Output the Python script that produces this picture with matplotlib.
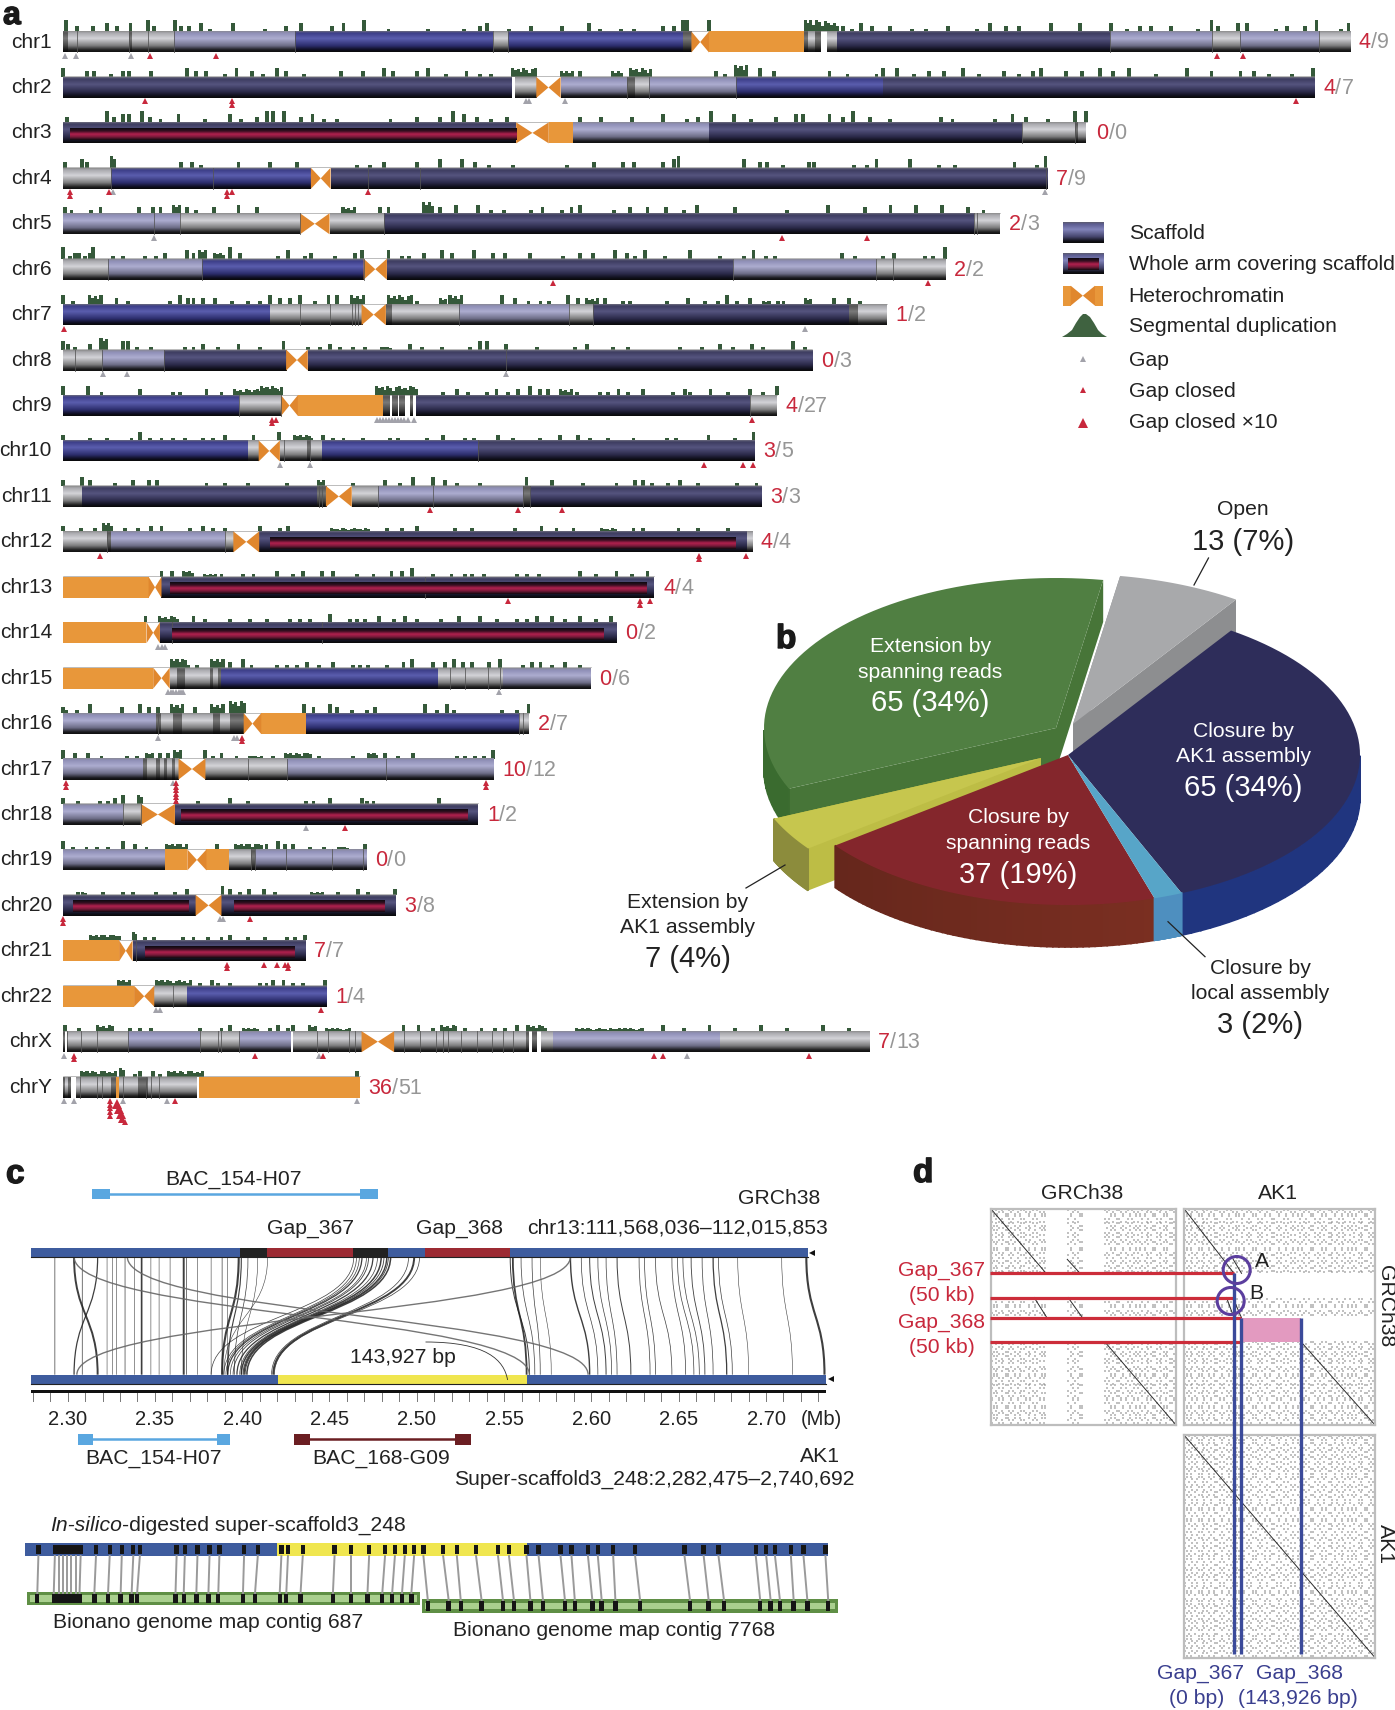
import numpy as np
import matplotlib
matplotlib.use('Agg')
import matplotlib.pyplot as plt
import matplotlib.patheffects as pe
from matplotlib.colors import LinearSegmentedColormap
from matplotlib.patches import Polygon, Rectangle, Circle, PathPatch
from matplotlib.path import Path

plt.rcParams['font.family'] = ['Liberation Sans', 'DejaVu Sans']

# ---------- panel a data, positions in Mb ----------
chrom_names = ['chr1','chr2','chr3','chr4','chr5','chr6','chr7','chr8','chr9','chr10','chr11','chr12',
               'chr13','chr14','chr15','chr16','chr17','chr18','chr19','chr20','chr21','chr22','chrX','chrY']
gaps_closed = [4,4,0,7,2,2,1,0,4,3,3,4,4,0,0,2,10,1,0,3,7,1,7,36]
gaps_total = [9,7,0,9,3,2,2,3,27,5,3,4,4,2,6,7,12,2,0,8,7,4,13,51]

# (segment end, kind): D dark, B blue, L light, G grey, K dark grey, W white, H het, C centromere, A whole arm
segments = [
 [(0.9,'K'),(2.6,'G'),(12.8,'G'),(13.3,'K'),(16.4,'G'),(21.4,'G'),(44.8,'L'),(83.2,'B'),(86,'G'),(119.9,'B'),(121.5,'K'),(124.9,'C'),(143.2,'H'),(144,'K'),(145.5,'G'),(146.5,'K'),(147.8,'W'),(149.7,'G'),(202.4,'D'),(222.2,'L'),(227.7,'G'),(242.8,'L'),(248.8,'G')],
 [(86.8,'D'),(87.4,'W'),(91.5,'G'),(96.2,'C'),(109.1,'L'),(110.5,'K'),(111.5,'G'),(113.3,'G'),(130.2,'L'),(158.6,'B'),(242,'D')],
 [(87.6,'A'),(93.9,'C'),(98.5,'H'),(124.9,'L'),(185.4,'D'),(195.6,'G'),(196.2,'K'),(197.6,'G'),(198.1,'W')],
 [(9.3,'G'),(47.9,'B'),(51.7,'C'),(190.3,'D')],
 [(22.6,'L'),(45.8,'G'),(51.5,'C'),(62,'G'),(176.2,'D'),(181.2,'G')],
 [(8.7,'G'),(26.8,'L'),(58.1,'B'),(62.6,'C'),(129.6,'D'),(157.2,'L'),(160.4,'G'),(170.6,'G')],
 [(39.9,'B'),(57.7,'G'),(62.4,'C'),(63.5,'K'),(64.8,'G'),(76.6,'G'),(97.9,'L'),(102.5,'G'),(151.9,'D'),(153.8,'K'),(159.3,'G')],
 [(2.3,'G'),(7.4,'G'),(19.4,'L'),(43.1,'D'),(47.3,'C'),(144.9,'D')],
 [(33.9,'B'),(42.1,'G'),(45.4,'C'),(61.8,'H'),(63,'K'),(63.5,'W'),(64.5,'K'),(65,'W'),(66,'K'),(67,'W'),(67.5,'K'),(68.2,'W'),(132.8,'D'),(138,'G')],
 [(35.8,'B'),(37.8,'G'),(41.9,'C'),(47.1,'G'),(47.7,'K'),(50,'G'),(80.3,'B'),(133.7,'D')],
 [(3.6,'G'),(49,'D'),(50.8,'K'),(55.8,'C'),(60.9,'G'),(89,'L'),(90.3,'K'),(135,'D')],
 [(8.4,'G'),(9.3,'K'),(31.3,'L'),(32.9,'G'),(37.9,'C'),(132.2,'A'),(133.2,'G')],
 [(16.5,'H'),(19,'C'),(114.3,'A')],
 [(16.1,'H'),(18.7,'C'),(107,'A')],
 [(17.4,'H'),(20.6,'C'),(22,'G'),(23.5,'K'),(28.4,'G'),(29,'K'),(30,'G'),(30.5,'K'),(72.5,'B'),(85.1,'G'),(102,'L')],
 [(18,'L'),(19,'K'),(21.3,'G'),(23,'K'),(29,'G'),(30.3,'K'),(32.2,'G'),(34.9,'K'),(38.3,'C'),(47,'H'),(88.2,'B'),(90.1,'G')],
 [(15.5,'L'),(16.2,'K'),(18,'G'),(18.7,'K'),(19.5,'G'),(20,'K'),(21,'G'),(21.6,'K'),(22.3,'G'),(27.5,'C'),(43.2,'G'),(83.2,'L')],
 [(11.6,'L'),(15,'G'),(21.6,'C'),(80.2,'A')],
 [(19.7,'L'),(24,'H'),(27.7,'C'),(32.1,'H'),(36.3,'G'),(37.1,'K'),(58.6,'L')],
 [(25.6,'A'),(30.6,'C'),(64.3,'A')],
 [(10.8,'H'),(13.4,'C'),(46.7,'A')],
 [(13.7,'H'),(17.6,'C'),(23.9,'G'),(50.8,'B')],
 [(0.2,'K'),(0.7,'W'),(1,'K'),(12.6,'G'),(26.5,'L'),(33.9,'G'),(43.9,'L'),(44.4,'W'),(57.7,'G'),(64,'C'),(89.6,'G'),(90.1,'K'),(90.7,'W'),(91.5,'K'),(92.5,'W'),(94.8,'G'),(127,'L'),(155.9,'G')],
 [(0.3,'K'),(1,'G'),(1.4,'K'),(2.5,'W'),(5.9,'G'),(6.9,'G'),(9.2,'G'),(10.2,'K'),(10.7,'H'),(14.5,'G'),(16.4,'K'),(17.5,'G'),(25.8,'G'),(26.3,'W'),(57.3,'H')],
]

# inner crimson stripes of the whole-arm scaffolds, (chromosome index, start, end)
arm_inner = [(2,1.3,87.6),(11,39.9,130),(12,20.6,112.8),(13,21,104.4),(17,22.8,78.3),(19,1.9,24.3),(19,33.1,62.2),(20,15.8,44.8)]

# thin separators inside the scaffolds
separators = [
 [2.6,12.8,16.4,21.4,44.8,83.2,86,202.4,222.2,227.7,242.8],[109.1,113.3,130.2],[185.4,195.6],[9.3,29,59,69,190],
 [17.5,22.6,45.8,62,176.2,176.8],[8.7,26.8,58.1,129.6,157.2,160.4],[45.8,51.5,55.8,56.4,57.1,76.6,97.9,102.5],
 [2.3,7.4,19.4,85.6],[33.9,42.1,132.8],[42.6,47.7,80.3],[49.5,50,60.9,71.6,89,90.3],[8.4,31.3],
 [70],[21,50],[74.8,77.7,82.2,84.5],[18.4,88.2,89],[35.8,43.2,62.4],[11.6,15],[36.3,37.1,43,52,58],[],[14],[21.3],
 [3.5,6.6,12.6,26.4,30,30.6,34,49,51.3,55.3,56.5,66,69,72,73.5,74.5,77,80,83,85,87],[3.2,6.5,7.5,11.6,16,17,18.5],
]

gap_open = [
 [0.4,2.5,13.1],[89.5,90.1,97],[],[9.7,189.9],[17.5],[],[143.5],[7.6,12.3,85.6],
 [60.6,61.2,61.8,62.4,63,63.6,64.2,64.8,65.4,66,66.6,67.8],[41.9,47.7],[],[],[],[18.3,19.1,19.7],
 [20.3,20.8,21.3,21.8,22.3,22.8,23.2,84.2],[18.4,33,33.6],[21.3],[46.9],[],[30.3,30.9],[],[18,18.8],[0.1,49.4,120.7],[0.1,2,11.6,20.1,56.8],
]
# (position, stacked count)
gap_done = [
 [(16.7,1),(29.5,1),(223.2,1),(228.1,1)],[(15.8,1),(32.7,2),(238.4,1)],[],[(1.3,2),(8.9,1),(31.6,2),(32.7,1),(58.9,1)],
 [(139,1),(155.5,1)],[(94.8,1),(167.3,1)],[(0.2,1)],[],[(40.4,2),(41.2,1),(133.2,1)],[(123.9,1),(131.4,1),(133.5,1)],
 [(70.9,1),(87.9,1),(96.4,1)],[(7.1,1),(123,2),(132,1)],[(86.1,1),(111.5,2),(113.5,1)],[],[],[(34.5,2)],
 [(0.5,2),(21.8,6),(81.7,2)],[(54.4,1)],[],[(0,2),(36.2,1)],[(31.7,2),(38.8,1),(41.4,1),(42.9,1),(43.5,2)],[(49.9,1)],
 [(2,2),(37.1,1),(50.2,1),(114.3,1),(116,1),(144.3,1)],[(9,5),(21.7,1)],
]
gap_done_big = [(23,10.4,3)]

# segmental duplications: spikes (position, height) and blocks (start, end, height)
sd_spikes = [
 [(0.5,4),(2.6,2),(5.7,2),(8.5,3),(10.4,2),(13,3),(16.4,4),(17.5,2),(21.6,4),(22.7,2),(24.4,2),(26.6,3),(28.3,1),(32.9,3),(39.1,1),(43,2),(46,3),(52,2),(54.2,3),(58.1,4),(62.9,1),(70.6,1),(77.5,1),(80.6,2),(81.9,3),(86.2,1),(90.5,2),(96.5,2),(101.7,3),(103.9,1),(107.8,1),(110.4,1),(116,2),(118.1,2),(119.9,4),(120.6,4),(124.9,4),(150.8,2),(152.6,1),(154.3,3),(156.4,2),(159.9,2),(164.2,1),(166.8,1),(171.1,2),(176.7,1),(179.3,3),(182.3,2),(184.9,2),(191,3),(196.6,3),(202.6,3),(205.7,1),(208.2,2),(210.4,2),(214.3,2),(219.5,1),(222.1,4),(223.4,2),(227.3,3),(229,3),(234.6,1),(236.7,2),(240.1,2),(242.4,4),(247.2,1),(248.6,3)],
 [(0,3),(4.6,2),(5.9,2),(9.3,1),(11.5,2),(12.8,2),(17,2),(24,3),(25.7,2),(27.6,2),(31.3,1),(33.5,3),(36.5,2),(38.7,1),(41.3,3),(43,2),(46.5,1),(53.8,2),(58,2),(62,3),(63.7,2),(68.5,2),(70.6,3),(74,1),(78,2),(80.6,1),(82.7,1),(100,2),(126.2,2),(128,1),(134.8,3),(137.4,2),(148.2,2),(151.7,1),(157.3,1),(158.6,3),(161.2,3),(164.6,1),(167.5,2),(170.4,2),(174.1,3),(177.2,1),(181.9,2),(184.9,1),(187.5,2),(189.2,3),(194,2),(197,2),(200.5,3),(203,2),(206.1,3),(211.3,1),(217.3,3),(222.1,2),(227.7,2),(230.3,2),(233.3,1),(237.6,1),(241.8,3)],
 [(0.7,2),(8.5,4),(9.8,2),(11.5,3),(12.8,3),(15.2,4),(16.7,2),(18.8,1),(22.3,3),(27.5,1),(32.2,3),(34.4,1),(37.4,2),(39.4,4),(40.6,4),(42.7,4),(46,2),(48.2,3),(50.4,1),(52.9,1),(63.3,1),(68.5,2),(72.8,2),(75.4,4),(77.5,3),(80.1,2),(82.7,1),(85.8,2),(100,2),(104,2),(110,2),(116,3),(120.6,1),(122.8,2),(125.3,4),(129.7,3),(133.1,1),(137.9,2),(141.8,3),(143,3),(148.2,3),(150.8,2),(152.8,4),(156,2),(159.9,1),(169.8,2),(172,1),(180.2,1),(183.6,3),(186.2,2),(190.5,1),(195.7,4),(197.9,4)],
 [(0.3,2),(3.7,3),(4.6,2),(22.7,2),(24.9,2),(26.6,1),(33.9,2),(40,2),(45.2,2),(56.8,1),(59.4,1),(62,2),(68.5,2),(72.8,3),(77.1,3),(79.7,2),(82.3,1),(87,1),(97.4,1),(102.6,2),(108.2,2),(110.4,2),(116,2),(118.1,3),(119,4),(131.6,3),(134.8,2),(136.1,2),(139.2,1),(144.3,2),(145.2,2),(153,1),(155.4,1),(157.3,3),(163.8,3),(169.4,1),(172.4,1),(184,2),(188.4,1),(190,4)],
 [(0.3,2),(1.6,1),(5.4,1),(7.2,2),(14.6,2),(17.3,2),(18.8,2),(24,2),(25.7,1),(29.2,2),(33.9,3),(37.4,2),(61.2,2),(62.9,2),(72.8,2),(75.9,3),(80.2,3),(82.7,1),(85.3,1),(90.5,1),(92.7,2),(96.5,1),(98.3,2),(100,3),(106.5,1),(109.6,2),(113,2),(116.5,2),(120,1),(122.6,3),(130,2),(140,1),(148,3),(155,2),(160,3),(165,3),(170,3),(175,2),(178,1)],
 [(0,4),(1.3,1),(2.3,2),(3,2),(4.2,1),(5.2,2),(5.8,4),(9.7,1),(11.6,1),(15.8,1),(18,1),(19.7,2),(23.9,3),(25.2,2),(32.3,4),(34.2,2),(41.6,1),(43.5,3),(46.8,1),(48,2),(52.6,1),(56.5,2),(57.7,3),(62.9,3),(65.5,1),(66.8,1),(69.7,2),(73.2,3),(75.2,2),(79.4,3),(83.2,2),(85.5,2),(90.3,2),(96.7,1),(100,2),(102.5,2),(106.7,3),(109,2),(110.6,1),(112.5,3),(116.4,1),(121.2,3),(127,1),(131.6,1),(133.5,3),(136,1),(137.7,1),(150.6,2),(153.2,1),(158.6,1),(160.6,2),(166.7,1),(168.3,1),(170.6,4)],
 [(0,3),(1.9,1),(10.3,2),(12.6,1),(20.6,1),(22.6,3),(24.2,2),(25.2,2),(27.1,2),(29.4,2),(32.6,1),(35.8,1),(38,1),(40,3),(41.9,2),(43.9,2),(45.8,3),(48.7,1),(51.3,3),(52.9,3),(68.4,1),(84.8,3),(87.4,2),(90,1),(92.3,1),(93.9,1),(97.7,3),(99.6,2),(104.8,2),(108.3,1),(109.6,1),(116.7,1),(120.9,2),(124.1,1),(126.7,1),(128.3,3),(130.3,1),(132.8,2),(138.3,1),(139.3,1),(149,2),(151.9,2),(154.1,1)],
 [(0,3),(1,2),(2.3,1),(5.2,2),(11.6,3),(12.6,3),(14.2,1),(17,1),(23.5,1),(25.2,1),(27.1,2),(30,1),(33.9,2),(38,1),(42.6,3),(47.3,1),(49.6,1),(51.6,2),(53.5,1),(56.1,1),(58.4,1),(67.1,2),(69.4,1),(73.2,1),(78.7,1),(80.6,3),(81.9,3),(85.6,2),(91.6,1),(99,1),(101.3,2),(106.4,1),(109.3,1),(119.3,1),(123.5,1),(127,2),(129.6,1),(133.2,2),(135.4,1),(141.2,3),(143.5,1)],
 [(0,3),(4.8,3),(7.4,1),(14.8,2),(21.3,1),(22.6,1),(27.7,2),(30.6,1),(73.5,1),(76.1,2),(78.3,1),(81.9,1),(83.8,2),(86.1,1),(88,2),(90.3,3),(92.2,2),(93.8,2),(99.3,1),(103.8,1),(105.4,1),(107.4,2),(109.3,1),(112.2,2),(118,1),(120.3,2),(121.2,1),(125.2,2),(128.5,1),(132.8,2),(135.4,1),(138,3)],
 [(0,2),(5.2,1),(8.4,1),(13.2,1),(14.8,3),(16.8,1),(19,1),(21.3,1),(23.5,1),(27.1,1),(29,1),(31.3,2),(36.8,2),(41.8,3),(50.3,2),(52.2,1),(54.2,1),(58,1),(63.2,1),(64.8,1),(70.3,1),(73.5,2),(77.7,1),(79.4,1),(84.1,2),(87,1),(92.2,1),(96.1,2),(99.6,2),(101.9,1),(105.4,1),(110.3,1),(116.7,1),(118.6,1),(124.8,2),(129.9,1),(133.5,3)],
 [(0,2),(3.6,3),(5.2,2),(10,1),(13.5,2),(16.5,2),(18.1,2),(27.7,1),(31.3,1),(35.8,1),(43.2,1),(56.1,1),(62.2,2),(65.2,1),(67.7,3),(71.6,3),(73.9,2),(76.1,1),(80.6,1),(89.6,3),(94.5,2),(100.6,1),(107,1),(110.6,2),(112.2,2),(113.8,1),(117,1),(119.3,2),(122.8,1),(130.3,1),(134.1,1)],
 [(0,2),(3.5,1),(6.1,1),(11.9,1),(14.5,1),(17,2),(19,2),(24.5,1),(27.1,2),(29,1),(31.3,1),(38,2),(41.9,1),(43.5,2),(62.6,1),(65.5,1),(68.4,2),(75.8,1),(79,1),(87.4,1),(92.5,2),(95.4,1),(98.7,1),(110.3,1),(112.2,1),(119,1),(122.8,1),(128.6,1)],
 [(19,2),(21,2),(30.6,1),(34.8,1),(36.8,1),(41.3,2),(44.5,1),(46.4,2),(50,2),(52.2,2),(56.8,1),(60,1),(63.5,2),(65.5,2),(67.4,3),(71.6,1),(75.1,1),(77.7,1),(79,1),(81.3,1),(87.7,1),(89.7,1),(92,1),(100,2),(103,1),(107,2),(110,1),(113,2)],
 [(15.9,2),(25.2,2),(27.4,1),(32.3,1),(36.1,1),(39.4,1),(43.9,1),(45.8,1),(47.7,1),(51.6,3),(55.5,1),(56.8,1),(58.4,1),(61,2),(63.9,1),(66.1,2),(68.4,1),(73,1),(76.5,2),(80.6,2),(83.9,1),(87.7,1),(89.7,1),(91.6,2),(94.6,2),(97,1),(100,2),(103,1),(106,2)],
 [(24.2,1),(25.8,1),(32.3,2),(34.8,3),(36.4,1),(41.3,1),(43.2,1),(45.2,1),(47.1,2),(49.4,1),(52.2,2),(56.1,1),(57.4,1),(59,1),(62.6,1),(65.8,2),(67.4,3),(71.6,2),(73.9,2),(75.5,3),(77.4,2),(79,2),(82.3,2),(84.5,3),(89,1),(90.6,2),(92.3,2),(94.5,1),(97,2),(100,1)],
 [(0,2),(0.6,1),(2.6,1),(5.2,3),(11.3,2),(14.8,3),(16.5,2),(18.4,2),(25.5,2),(46.5,3),(48.4,2),(51.6,3),(52.9,2),(55.8,1),(58.7,1),(60.3,2),(70,3),(72.3,1),(74.2,3),(75.5,1),(84.8,1),(87.7,1),(90,3)],
 [(0,3),(2.3,2),(4.8,2),(7.4,1),(12.3,1),(14.2,1),(18.7,2),(20.3,2),(27.5,3),(29,1),(30.6,2),(33.5,1),(40.6,1),(49.4,1),(56.1,1),(62.2,2),(64.8,1),(67.7,2),(76.1,1),(77.7,1),(79.6,1),(81.3,1),(83.2,3)],
 [(0,2),(2.9,1),(7.1,1),(8.7,1),(10,2),(11.6,3),(21.9,1),(26,1),(32.3,2),(35.8,1),(47,1),(48.4,1),(51.6,2),(57.8,2),(58.7,1),(60,1),(72.6,2)],
 [(0,3),(1.9,1),(4.5,1),(6.5,1),(8.7,1),(11.6,3),(13.8,2),(16.1,1),(29.7,2),(39.3,2),(41.6,3),(42.9,2),(44.5,2),(47.7,1),(50.4,1),(58.4,2)],
 [(2.9,1),(7.7,1),(11.6,1),(13.5,1),(17.9,1),(21.6,1),(23.9,2),(30.8,3),(32.3,2),(34.2,1),(36,2),(38.8,2),(41,1),(53.2,1),(57,2),(59,1),(64.2,2)],
 [(15.8,1),(17.5,1),(23.2,1),(25.2,1),(28,1),(30.6,1),(32.3,2),(35.8,1),(39.1,1),(43.2,1),(44.8,1),(46.7,2)],
 [(26.4,1),(28.7,2),(30,1),(32.2,1),(38,1),(39.3,1),(40.6,2),(42.6,2),(44.5,1),(46.4,1),(50.6,2)],
 [(0.3,2),(3,1),(12.9,1),(14.8,1),(17,1),(26.4,1),(30.6,1),(32.3,2),(40,1),(41.6,2),(43.5,1),(44.5,2),(65.8,2),(68.7,2),(71.6,1),(77.7,1),(80.9,1),(83.5,1),(85.5,1),(87.7,2),(116,2),(120,1),(125,2),(130,1),(135,2),(140,1),(147,2),(152,1)],
 [(13.8,1),(14.8,2),(17.4,2),(18.7,1),(56.8,2)],
]
sd_blocks = [
 [(143.2,147.1,4),(147.8,149.7,3)],[(86.6,91.4,3),(96,98.3,2),(106,107.8,2),(109.5,113.4,3),(129.7,132.3,4)],[],[(9,9.8,4)],
 [(21,22.3,3),(53.8,56.4,2),(69.4,71.4,4)],[(26.1,27.7,3),(29,31,2)],[(4.8,7.4,3),(55.5,58,3),(62.6,67.1,3),(72.6,73.9,2),(74.5,77.1,3),(100.9,103.2,2),(135.1,136.7,1),(143.2,144.8,2)],[(7,8.3,4),(61.3,63.2,1)],
 [(32.9,41.9,2),(38,41.9,3),(60.3,68.3,3),(95.8,98.3,2)],[(44.5,48,2)],[(49,50.3,2)],[(7.4,9.4,3),(51.6,59.3,1),(103.8,107,1)],
 [(23,25.2,2),(27,29.7,1)],[(18.4,22,2)],[(20.6,23.5,3),(28.4,31,3)],[(20.6,22.9,3),(28.4,30.6,3),(32,35.2,4)],
 [(15.8,17.1,2),(21.3,22.5,3),(35.8,38,1),(42.6,47.7,2),(58.7,60.6,2)],[(14.2,15,3)],[(19.7,23.9,2),(33,38,2),(53,55,1)],[(3.5,4.2,1),(47.7,50.3,1)],
 [(5,10.8,2),(13.2,14.2,3)],[(10.3,13,2),(17.7,24.8,2)],[(6.4,9.4,2),(34.5,37.4,1),(47.4,48.7,2),(50.6,55.5,1),(72.9,76.1,2),(89.6,93.2,2),(99,112,1)],[(3.2,10,2),(10.8,11.6,3),(20.1,26.8,2)],
]
# uneven top of a dense block
block_texture = [1,.75,.95,.6,1,.85,.5,.9,1,.7,.8,.55,1,.9,.65]

# ---------- panel b data ----------
pie_values = [13, 65, 3, 37, 7, 65]   # open, AK1 closure, local closure, spanning closure, AK1 extension, spanning extension
pie_top = ['#A8A9AB', '#2E2D5A', '#57A5C8', '#84262C', '#C6C64E', '#507F42']
pie_rim = ['#8D8E90', '#20357F', '#4E8FBF', '#6E2A1E', '#8C8C3C', '#3A6B2F']
pie_cut = ['#8D8E90', '#2E2D5A', '#57A5C8', '#84262C', '#BDBD45', '#477538']
pie_offset = [(5,-31), (0,0), (0,0), (0,0), (-27,3), (-12,-27)]
pie_draw_order = [0, 5, 1, 4, 3, 2]

# ---------- panel c data, Mb on the AK1 ruler ----------
top_bar = [(2.2792,2.3989,'b'),(2.3989,2.4143,'k'),(2.4143,2.4633,'r'),(2.4633,2.4837,'k'),(2.4837,2.5045,'b'),(2.5045,2.5532,'r'),(2.5532,2.7241,'b')]
low_bar = [(2.2792,2.4206,'b'),(2.4206,2.5629,'y'),(2.5629,2.7341,'b')]
ruler_labels = [2.30,2.35,2.40,2.45,2.50,2.55,2.60,2.65,2.70]

straight_top = [2.2927,2.3037,2.3084,2.3172,2.3226,2.3257,2.3279,2.3329,2.3383,2.3424,2.3477,2.3524,2.3587,2.3665,2.3681,2.3744,2.3822,2.3885,2.3917,2.3980,2.3995,2.4033,2.4089,2.4146]
straight_low = [2.2927,2.3172,2.3084,2.3037,2.3226,2.3257,2.3279,2.3329,2.3383,2.3424,2.3477,2.3524,2.3587,2.3665,2.3681,2.3744,2.3822,2.3885,2.3917,2.3885,2.3917,2.3955,2.3995,2.3895]
straight_lw = [.5,1.4,.5,.9,.4,.4,.4,.5,.4,1.2,.4,.4,.4,1.4,.5,.4,.4,.5,.4,1.5,.8,.5,.4,.4]
scurve_top = [2.4639,2.4655,2.4671,2.4686,2.4712,2.4724,2.4749,2.4775,2.4796,2.4812,2.4828,2.4837,2.4850,2.4953,2.4985,2.5016]
scurve_low = [2.3822,2.3895,2.3907,2.3917,2.3932,2.3948,2.3970,2.3986,2.3995,2.4005,2.4011,2.4017,2.4027,2.4168,2.4178,2.4184]
scurve_lw = [.5,.5,.5,.9,.5,.6,.9,.5,1.1,.6,1,.6,1.1,.5,1.4,.5]
right_top = [2.5535,2.5550,2.5597,2.5660,2.5707,2.5880,2.5942,2.5990,2.6037,2.6084,2.6147,2.6273,2.6304,2.6367,2.6461,2.6493,2.6524,2.6571,2.6634,2.6697,2.6728,2.6838,2.7090,2.7231]
right_low = [2.5645,2.5629,2.5676,2.5707,2.5770,2.5990,2.6037,2.6084,2.6116,2.6147,2.6226,2.6336,2.6367,2.6461,2.6540,2.6587,2.6618,2.6650,2.6697,2.6775,2.6807,2.6901,2.7152,2.7335]
right_lw = [.7,1.3,.5,.5,.4,1,.5,.7,.5,.5,.7,.5,.5,.5,.5,.5,.5,.6,.5,.9,.5,.4,.4,1.5]
cross_top = [2.3037, 2.3342, 2.5880]
cross_low = [2.5645, 2.5981, 2.3053]
bac_top = [(2.3140,2.3243),(2.4674,2.4775)]
bac_low1 = [(2.3062,2.3147),(2.3854,2.3932)]
bac_low2 = [(2.4294,2.4388),(2.5220,2.5308)]

# in-silico sites and Bionano labels, in map units
digest_sites = [70,100,107,115,122,130,138,147,175,200,222,243,255,322,337,360,382,400,445,470,513,525,552,610,640,673,702,720,738,755,
                772,808,833,868,908,928,960,982,1022,1042,1072,1090,1118,1158,1248,1283,1310,1378,1397,1413,1442,1465,1505]
contig_sites_1 = [68,98,107,115,122,130,138,145,172,197,220,240,250,320,335,358,380,398,443,465,510,522,548,607,640,670,697,715,733,750]
contig_sites_2 = [780,818,840,878,917,937,967,990,1030,1048,1080,1097,1122,1167,1258,1292,1320,1386,1405,1422,1447,1472,1510]

# ---------- panel d data, kb ----------
grch_repeats = [3,7,12,16,21,27,30,36,41,44,50,55,59,66,70,74,81,85,92,96,103,108,112,118,123,129,132,188,193,199,204,211,216,221,
                277,281,286,290,296,301,305,311,316,320,327,331,336,342,346,351,357,362,366,372,377,381,388,392,397,403,408,412,418,423,427,433,438,443]
ak1_repeats = [2,6,11,17,20,26,31,35,42,45,49,56,60,65,71,75,80,86,91,97,102,107,113,117,124,128,133,139,144,150,155,161,166,172,177,183,188,194,199,206,211,217,222,228,233,239,245,250,256,262,267,273,278,
               284,289,293,299,304,310,315,321,326,330,337,341,347,352,356,363,367,373,378,382,387,393,398,402,409,413,419,424,428,434,439,444,449,454]
repeat_family_a = 'abcbacabbcacbabccabacbcab'
repeat_family_b = 'cabbcacbabcacabcbbacabacbcaacbb'
grch_len = 447.8
ak1_len = 458.2
diag_tl = [(0,0,134,134),(185,105,216,134),(105,184,136,226),(187,184,222,226),(276,276,447.8,447.8)]
diag_tr = [(0,0,120,134),(118,105,138,134),(102,184,120,226),(120,190,138,226),(281,276,458.2,447.8)]
diag_br = [(0,0,458.2,458.2)]
gap_lines_grch = [134,184,226,276]
gap_lines_ak1 = [120,137,281]

# ---------- figure and full page axes ----------
W, H = 1395, 1710
fig = plt.figure(figsize=(W/100, H/100), dpi=100, facecolor='white')

def page_axes(xlim, z):
    a = fig.add_axes([0,0,1,1], zorder=z)
    a.set_xlim(*xlim)
    a.set_ylim(H, 0)
    a.axis('off')
    a.patch.set_visible(False)
    a.autoscale(False)
    return a

MB_PX = 5.17
ax_a = page_axes((-63.26/MB_PX, (W-63.26)/MB_PX), 1)
RUL_PX = 1746
ax_c = page_axes((2.30-67.6/RUL_PX, 2.30+(W-67.6)/RUL_PX), 1)
ax_dg = page_axes((0, 1568*W/860), 1)
ax = page_axes((0, W), 5)
renderer = fig.canvas.get_renderer()

TXT = '#222222'
RED = '#C8283C'
GREYTXT = '#969696'
BLUETXT = '#3A3F8F'
FS = 15.2

def label(x, y, s, size=FS, color=TXT, ha='center', **kw):
    return ax.text(x, y, s, fontsize=size, color=color, ha=ha, va='center', **kw)

# gradients of the scaffold bars
ramp = np.linspace(0, 1, 40).reshape(-1, 1)
def ramp_cmap(cols):
    return LinearSegmentedColormap.from_list('s', list(zip([0,.08,.35,.7,.92,1], cols)))
cmaps = {
 'D': ramp_cmap(['#6a6a7c','#3d3c60','#55547f','#2b2a4a','#0e0e18','#0a0a0a']),
 'B': ramp_cmap(['#6a6a80','#3c3e88','#5b5eae','#2d2e6e','#0c0c1c','#0a0a0a']),
 'L': ramp_cmap(['#8a8a98','#8e8eb6','#adadd0','#6e6e88','#18181c','#101010']),
 'G': ramp_cmap(['#8e8e8e','#a9a9ae','#d4d4d8','#7d7d7e','#1e1e1e','#111111']),
 'K': ramp_cmap(['#666666','#555555','#7a7a7a','#444444','#141414','#0a0a0a']),
 'M': ramp_cmap(['#5c5c70','#5c5c90','#8284ba','#46466e','#101018','#0a0a0a']),
}
inner_cmap = LinearSegmentedColormap.from_list('arm', ['#0c0a10','#3a0f22','#b2214f','#7a1a3a','#120a10'])
HET = '#E8973A'
HET2 = '#E0872E'

def grad(a, x0, x1, y0, y1, cmap):
    a.imshow(ramp, cmap=cmap, extent=(x0, x1, y1, y0), aspect='auto', vmin=0, vmax=1, interpolation='bilinear', zorder=2)

def bowtie(a, x0, x1, y0, y1):
    m = (x0+x1)/2
    ym = (y0+y1)/2
    a.add_patch(Polygon([(x0,y0),(m,ym),(x0,y1)], fc=HET2, ec='none', zorder=3))
    a.add_patch(Polygon([(x1,y0),(m,ym),(x1,y1)], fc=HET2, ec='none', zorder=3))

BAR_H = 21
SD_UNIT = 2.9
ROW = 45.44
for i, name in enumerate(chrom_names):
    yc = 42 + ROW*i
    y0, y1 = yc - BAR_H/2, yc + BAR_H/2
    label(52, yc, name, ha='right', size=15)
    start = 0
    for end, kind in segments[i]:
        if kind == 'H':
            ax_a.add_patch(Rectangle((start,y0), end-start, BAR_H, fc=HET, ec='none', zorder=2))
        elif kind == 'C':
            bowtie(ax_a, start, end, y0, y1)
        elif kind == 'W':
            pass
        elif kind == 'A':
            grad(ax_a, start, end, y0, y1, cmaps['D'])
        else:
            grad(ax_a, start, end, y0, y1, cmaps[kind])
        start = end
    for s in separators[i]:
        ax_a.plot([s,s], [y0,y1], color='#555555', lw=.7, alpha=.8, zorder=3)
    # segmental duplication track
    if sd_spikes[i]:
        p, h = zip(*sd_spikes[i])
        ax_a.bar(p, -np.array(h)*SD_UNIT, width=.75, bottom=y0, color='#35593A', lw=0, zorder=1)
    for s, e, h in sd_blocks[i]:
        edges = np.arange(s, e, .55)
        for k, x in enumerate(edges):
            ax_a.bar(x, -h*SD_UNIT*block_texture[k % len(block_texture)], width=.6, align='edge', bottom=y0, color='#35593A', lw=0, zorder=1)
    ax_a.plot([0, segments[i][-1][0]], [y0-.5,y0-.5], color='#8a8a8a', lw=.4, zorder=1)
    # open and closed gaps
    for g in gap_open[i]:
        ax_a.plot(g, y1+3.5, '^', ms=4.6, color='#A2A2AA', mew=0, zorder=4)
    for g, n in gap_done[i]:
        for k in range(n):
            ax_a.plot(g, y1+3.5+k*3.6, '^', ms=4.4, color=RED, mew=0, zorder=4)
    # closed/total counts
    last = segments[i][-1][0]
    xt = 63.26 + last*MB_PX + 9
    t1 = label(xt, yc+1, str(gaps_closed[i]), color=RED, ha='left', size=15.5)
    b = t1.get_window_extent(renderer)
    t2 = label(b.x1, yc+1, '/', color=GREYTXT, ha='left', size=15.5)
    b = t2.get_window_extent(renderer)
    label(b.x1, yc+1, str(gaps_total[i]), color=GREYTXT, ha='left', size=15.5)

for idx, g, n in gap_done_big:
    yb = 42 + ROW*idx + BAR_H/2
    for k in range(n):
        ax_a.plot(g+k*.35, yb+6+k*5, '^', ms=7.5, color=RED, mew=0, zorder=4)
    ax_a.plot(g+n*.35, yb+6+n*5, '^', ms=6, color=RED, mew=0, zorder=4)
    ax_a.plot(g+(n+1)*.4, yb+6+n*5+3, '^', ms=4.4, color=RED, mew=0, zorder=4)

for idx, s, e in arm_inner:
    yc = 42 + ROW*idx
    grad(ax_a, s, e, yc-4.6, yc+6.8, inner_cmap)
    ax_a.images[-1].set_zorder(3)

# legend
LX0, LX1 = 1062.7, 1103
grad(ax, LX0, LX1, 221.7, 242.7, cmaps['M'])
grad(ax, LX0, LX1, 253, 274, cmaps['M'])
grad(ax, LX0+5, LX1-5, 258.5, 270, inner_cmap)
ax.images[-1].set_zorder(3)
ax.add_patch(Rectangle((LX0,285.7), 8, 20, fc=HET, ec='none'))
ax.add_patch(Rectangle((LX1-8,285.7), 8, 20, fc=HET, ec='none'))
bowtie(ax, LX0+8, LX1-8, 285.7, 305.7)
sd_x = [1062,1067,1072,1076,1080,1083,1086,1090,1094,1098,1102,1107]
sd_y = [337,334,330,323,317,314,314,317,323,330,334,337]
ax.add_patch(Polygon(list(zip(sd_x, sd_y)), fc='#3F6240', ec='none'))
ax.plot(1082.7, 358.7, '^', ms=4.6, color='#A2A2AA', mew=0)
ax.plot(1082.7, 390, '^', ms=4.4, color=RED, mew=0)
ax.plot(1082.7, 423, '^', ms=7.5, color=RED, mew=0)
legend_labels = ['Scaffold','Whole arm covering scaffold','Heterochromatin','Segmental duplication','Gap','Gap closed','Gap closed ×10']
legend_y = [233.3,265,297,326,360,391.7,422.7]
for s, y in zip(legend_labels, legend_y):
    label(1128.7, y, s, ha='left')

# ---------- panel b ----------
PX, PY, RX, RY, DEPTH = 1068, 755, 292, 150, 42
def rim_xy(theta, off):
    r = np.radians(theta)
    return PX + off[0] + RX*np.sin(r), PY + off[1] - RY*np.cos(r)

ang = np.array(pie_values)/sum(pie_values)*360
starts = 9.3 + np.concatenate([[0], np.cumsum(ang)[:-1]])
for n in pie_draw_order:
    a0, a1 = starts[n], starts[n]+ang[n]
    off = pie_offset[n]
    apex = (PX+off[0], PY+off[1])
    thetas = np.linspace(a0, a1, 60)
    pts = [rim_xy(t, off) for t in thetas]
    # cut faces only show on the pulled out slices
    if off != (0, 0):
        for t in (a0, a1):
            q = rim_xy(t, off)
            ax.add_patch(Polygon([apex, q, (q[0],q[1]+DEPTH), (apex[0],apex[1]+DEPTH)], fc=pie_cut[n], ec='none', zorder=2))
    # rim, only its front half shows
    for t0, t1 in zip(thetas[:-1], thetas[1:]):
        tm = (t0+t1)/2 % 360
        if 90 <= tm <= 270:
            p0, p1 = rim_xy(t0, off), rim_xy(t1, off)
            col = np.array(matplotlib.colors.to_rgb(pie_rim[n]))
            shade = .82 + .3*(270-tm)/110 if n == 3 else 1
            c = np.clip(col*shade, 0, 1)
            ax.add_patch(Polygon([p0, p1, (p1[0],p1[1]+DEPTH), (p0[0],p0[1]+DEPTH)], fc=c, ec=c, lw=1.2, zorder=2))
    ax.add_patch(Polygon([apex]+pts, fc=pie_top[n], ec='none', zorder=2))

ax.plot([1208.5,1194],[558,585], color='#222', lw=.9, zorder=3)
ax.plot([1168,1205],[921.7,956.7], color='#222', lw=.9, zorder=3)
ax.plot([785,746],[865,888], color='#222', lw=.9, zorder=3)

for x, ys, lines, col in [
    (930.6, (646,672,703), ('Extension by','spanning reads','65 (34%)'), 'white'),
    (1243, (731,756,788), ('Closure by','AK1 assembly','65 (34%)'), 'white'),
    (1018, (817.7,843,875), ('Closure by','spanning reads','37 (19%)'), 'white'),
    (688, (902,927,959), ('Extension by','AK1 assembly','7 (4%)'), TXT),
    (1260, (968.5,993.6,1025), ('Closure by','local assembly','3 (2%)'), TXT)]:
    label(x, ys[0], lines[0], color=col, zorder=4)
    label(x, ys[1], lines[1], color=col, zorder=4)
    label(x, ys[2], lines[2], color=col, size=21, zorder=4)
label(1243, 509, 'Open')
label(1243, 541.7, '13 (7%)', size=21)

# panel letters
for s, x, y, sz in [('a',3,24,23),('b',776,648,24),('c',6,1183,24),('d',913,1182,24)]:
    ax.text(x, y, s, fontsize=sz, fontweight='bold', color='#1a1a1a', ha='left', va='baseline', zorder=6,
            path_effects=[pe.withStroke(linewidth=1, foreground='#1a1a1a')])

# ---------- panel c ----------
BAR_COL = {'b':'#3E5C9E','k':'#222222','r':'#9C2A33','y':'#F0E64F'}
def track(a, segs, y0, y1):
    for s, e, c in segs:
        a.add_patch(Rectangle((s,y0), e-s, y1-y0, fc=BAR_COL[c], ec='none', zorder=3))
    a.plot([segs[0][0],segs[-1][1]], [y1,y1], color='#222', lw=.8, zorder=3)
track(ax_c, top_bar, 1247.7, 1256.7)
track(ax_c, low_bar, 1374.7, 1384)

def link(a, xt, xb, lw, color='#1c1c1c', alpha=.85, yt=1256.7, yb=1374.7):
    ym = (yt+yb)/2
    p = Path([(xt,yt),(xt,ym),(xb,ym),(xb,yb)], [Path.MOVETO,Path.CURVE4,Path.CURVE4,Path.CURVE4])
    a.add_patch(PathPatch(p, fc='none', ec=color, lw=lw, alpha=alpha, zorder=2))

for xt, xb, w in zip(straight_top, straight_low, straight_lw):
    link(ax_c, xt, xb, w)
for xt, xb, w in zip(scurve_top, scurve_low, scurve_lw):
    link(ax_c, xt, xb, w)
for xt, xb, w in zip(right_top, right_low, right_lw):
    link(ax_c, xt, xb, w)
for xt, xb in zip(cross_top, cross_low):
    link(ax_c, xt, xb, 1.0, color='#666666', alpha=.9)
# self match running into the insertion in the assembly
arc_x = [2.505, 2.540, 2.550, 2.552]
arc_y = [1342, 1342, 1360, 1380]
arc = Path(list(zip(arc_x, arc_y)), [Path.MOVETO,Path.CURVE4,Path.CURVE4,Path.CURVE4])
ax_c.add_patch(PathPatch(arc, fc='none', ec='#333', lw=.6, zorder=4))

ax_c.add_patch(Rectangle((2.2792,1389.5), 2.7341-2.2792, 3.8, fc='#111', ec='none', zorder=3))
for t in np.arange(2.28, 2.735, .01):
    ax_c.plot([t,t], [1393,1400.7], color='#777', lw=.7, zorder=2)
for v in ruler_labels:
    ax_c.text(v, 1419, '%.2f' % v, fontsize=14.5, color=TXT, ha='center', va='center')
label(821, 1419, '(Mb)', size=14.5)
ax.plot(812, 1252.7, '<', ms=5, color='#111', mew=0)
ax.plot(831, 1379, '<', ms=5, color='#111', mew=0)

def bac(a, ends, y0, y1, col):
    for s, e in ends:
        a.add_patch(Rectangle((s,y0), e-s, y1-y0, fc=col, ec='none', zorder=3))
    a.plot([ends[0][1],ends[1][0]], [(y0+y1)/2]*2, color=col, lw=1.8, zorder=2)
bac(ax_c, bac_top, 1189, 1199, '#5AA7E0')
bac(ax_c, bac_low1, 1434, 1444.7, '#5AA7E0')
bac(ax_c, bac_low2, 1434, 1444.7, '#6B1E22')

label(233.4, 1179, 'BAC_154-H07')
label(779, 1198, 'GRCh38')
label(310.5, 1228, 'Gap_367')
label(459.7, 1228, 'Gap_368')
label(677.5, 1228, 'chr13:111,568,036–112,015,853')
label(403, 1357, '143,927 bp')
label(153.8, 1458, 'BAC_154-H07')
label(381, 1458, 'BAC_168-G09')
label(820, 1456, 'AK1')
label(654.4, 1479, 'Super-scaffold3_248:2,282,475–2,740,692')
t = label(50.5, 1525, 'In-silico', ha='left', style='italic')
label(t.get_window_extent(renderer).x1, 1525, '-digested super-scaffold3_248', ha='left')
label(208.4, 1622.7, 'Bionano genome map contig 687')
label(614, 1630.7, 'Bionano genome map contig 7768')

# digest tracks
ax_dg.add_patch(Rectangle((46,1543.3), 459, 12.4, fc='#3E5C9E', ec='none'))
ax_dg.add_patch(Rectangle((505,1543.3), 455, 12.4, fc='#F0E64F', ec='none'))
ax_dg.add_patch(Rectangle((960,1543.3), 550, 12.4, fc='#3E5C9E', ec='none'))
for xs, y0, y1, x0, x1 in [(contig_sites_1,1591.7,1605,50,765),(contig_sites_2,1599,1612.7,770,1527)]:
    ax_dg.add_patch(Rectangle((x0,y0), x1-x0, y1-y0, fc='#5F8F45', ec='none'))
    ax_dg.add_patch(Rectangle((x0+4,y0+3.5), x1-x0-8, y1-y0-7, fc='#A9CF8E', ec='none'))
    for s in xs:
        ax_dg.add_patch(Rectangle((s-4,y0+2), 8, y1-y0-4, fc='#151515', ec='none', zorder=3))
for s in digest_sites:
    ax_dg.add_patch(Rectangle((s-4,1545), 8, 9, fc='#151515', ec='none', zorder=3))
for top, low in zip(digest_sites, contig_sites_1 + contig_sites_2):
    yb = 1593 if low < 765 else 1600
    ax_dg.plot([top,low], [1556,yb], color='#9a9a9a', lw=1.4, zorder=2)

# ---------- panel d ----------
def dot_axes(x0, x1, y0, y1, xlim, ylim):
    a = fig.add_axes([x0/W, 1-y1/H, (x1-x0)/W, (y1-y0)/H], zorder=3)
    a.set_xlim(0, xlim)
    a.set_ylim(ylim, 0)
    a.set_xticks([])
    a.set_yticks([])
    for sp in a.spines.values():
        sp.set_color('#bdbdbd')
        sp.set_linewidth(1.6)
    return a

def dotplot(a, xrep, yrep, diags):
    # a dot wherever two repeats of the same family meet
    pairs = [(x, y) for i, x in enumerate(xrep) for j, y in enumerate(yrep)
             if repeat_family_a[i % len(repeat_family_a)] == repeat_family_b[j % len(repeat_family_b)]]
    xs, ys = zip(*pairs)
    a.scatter(xs, ys, s=.55, c='#777777', marker='s', linewidths=0, alpha=.45)
    for x0, y0, x1, y1 in diags:
        a.plot([x0,x1], [y0,y1], color='#2a2a2a', lw=.7)

TL = (990.7, 1176, 1208.6, 1425)
TR = (1184, 1375, 1208.6, 1425)
BR = (1184, 1375, 1435, 1657.6)
dotplot(dot_axes(*TL, grch_len, grch_len), grch_repeats, grch_repeats, diag_tl)
ax_tr = dot_axes(*TR, ak1_len, grch_len)
dotplot(ax_tr, ak1_repeats, grch_repeats, diag_tr)
dotplot(dot_axes(*BR, ak1_len, ak1_len), ak1_repeats, ak1_repeats, diag_br)

def gy(kb):
    return TR[2] + kb*(TR[3]-TR[2])/grch_len
def ax_gx(kb):
    return TR[0] + kb*(TR[1]-TR[0])/ak1_len

ax.add_patch(Rectangle((ax_gx(gap_lines_ak1[1]),gy(gap_lines_grch[2])), ax_gx(gap_lines_ak1[2])-ax_gx(gap_lines_ak1[1]),
                       gy(gap_lines_grch[3])-gy(gap_lines_grch[2]), fc='#E39AC0', ec='none', zorder=1))

for k, kb in enumerate(gap_lines_grch):
    xe = ax_gx(gap_lines_ak1[0]) if k < 2 else ax_gx(gap_lines_ak1[1])
    ax.plot([990,xe], [gy(kb),gy(kb)], color='#CC2D3A', lw=2.3, solid_capstyle='butt', zorder=2)
ax.plot([ax_gx(gap_lines_ak1[0])]*2, [gy(gap_lines_grch[0]),1654], color='#3B4A9A', lw=2.4, solid_capstyle='butt', zorder=3)
ax.plot([ax_gx(gap_lines_ak1[1])]*2, [gy(gap_lines_grch[2]),1654], color='#3B4A9A', lw=2.4, solid_capstyle='butt', zorder=3)
ax.plot([ax_gx(gap_lines_ak1[2])]*2, [gy(gap_lines_grch[2]),1654], color='#3B4A9A', lw=2.4, solid_capstyle='butt', zorder=3)
ax.add_patch(Circle((1236.7,1270), 13.5, fc='none', ec='#5B3E9E', lw=2.2, zorder=4))
ax.add_patch(Circle((1230.7,1301), 13.5, fc='none', ec='#5B3E9E', lw=2.2, zorder=4))

label(1081.7, 1193.4, 'GRCh38')
label(1277.7, 1193.4, 'AK1')
for y, s in [(1270,'Gap_367'),(1295,'(50 kb)'),(1322,'Gap_368'),(1347.6,'(50 kb)')]:
    label(941.7, y, s, color=RED)
label(1261.7, 1261, 'A')
label(1256.7, 1293, 'B')
label(1385.7, 1306, 'GRCh38', rotation=-90)
label(1385.7, 1544, 'AK1', rotation=-90)
label(1200.7, 1673.4, 'Gap_367', color=BLUETXT)
label(1196.7, 1698.6, '(0 bp)', color=BLUETXT)
label(1299.3, 1673.4, 'Gap_368', color=BLUETXT)
label(1298, 1698.6, '(143,926 bp)', color=BLUETXT)

fig.savefig('out.png', dpi=100, facecolor='white')
